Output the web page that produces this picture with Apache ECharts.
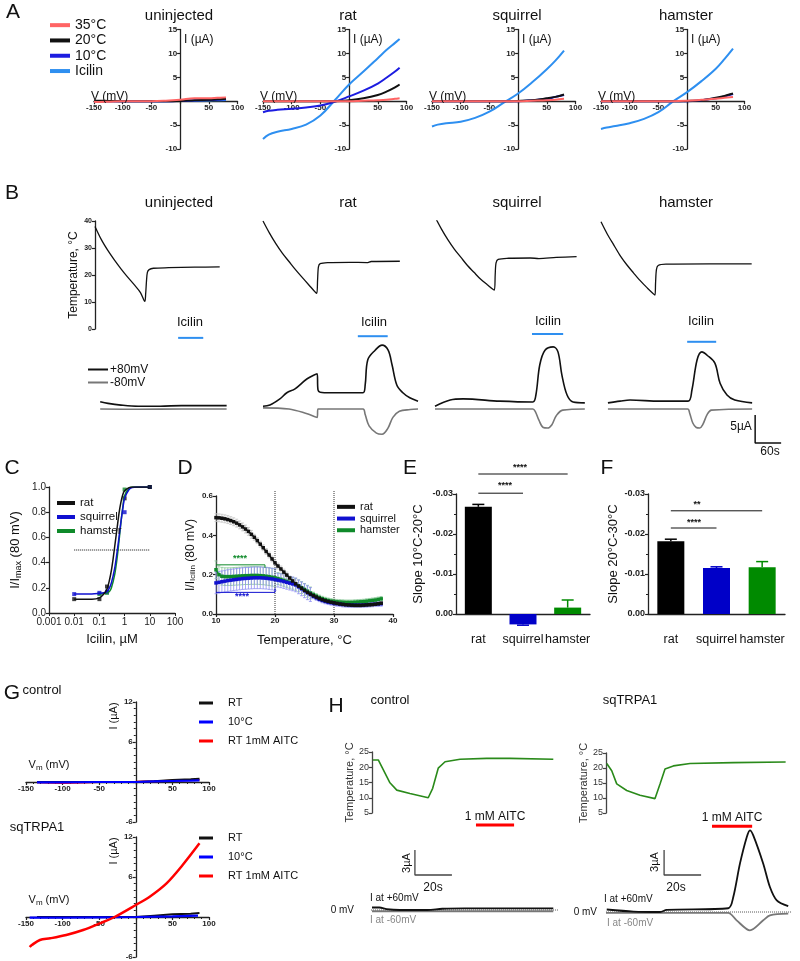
<!DOCTYPE html>
<html><head><meta charset="utf-8">
<script src="https://cdn.jsdelivr.net/npm/echarts@6/dist/echarts.min.js"></script>
<style>html,body{margin:0;padding:0;background:#fff}#c{width:800px;height:961px}</style>
</head><body><div id="c"></div>
<script>
// ================= DATA =================
// Panel A: I-V curves (mV, uA)
const ivV12 = [-150,-140,-125,-100,-75,-50,-25,0,25,50,65,80];
const ivV13 = [-150,-140,-125,-100,-75,-50,-25,0,25,50,65,80,88];
const aU_35 = [-0.1,-0.15,-0.1,0,0,0,0.1,0.3,0.6,0.6,0.7,0.8];
const aU_20 = [0.1,0.1,0.05,0,0,0,0,0.05,0.2,0.3,0.4,0.5];
const aU_10 = [0,0,0,0,0,0,0,0.05,0.15,0.25,0.3,0.4];
const aU_ic = [0,0,0,0,0,0,0,0.05,0.1,0.15,0.2,0.25];
const aR_ic = [-7.9,-7.0,-6.4,-5.8,-4.9,-3.0,0.2,3.5,6.2,9.0,10.7,12.2,13.0];
const aR_10 = [-2.3,-2.0,-1.8,-1.6,-1.3,-0.9,-0.1,1.0,2.2,3.7,4.9,6.2,7.0];
const aR_20 = [0,0,0,0,0,0,0,0.2,0.6,1.3,2.0,2.9,3.5];
const aR_35 = [0,0,0,0,0,0,0,0,0.1,0.2,0.3,0.5,0.6];
const aS_ic = [-5.3,-4.9,-4.6,-4.3,-3.5,-2.2,-0.3,1.6,4.0,6.7,8.5,10.6];
const aS_10 = [0,0,0,0,0,0,0,0,0.2,0.5,0.9,1.3];
const aS_20 = [0,0,0,0,0,0,0,0.05,0.2,0.6,0.9,1.4];
const aS_35 = [0,0,0,0,0,0,0,0,0.1,0.2,0.3,0.5];
const aH_ic = [-5.8,-5.5,-5.2,-4.6,-3.7,-2.3,-0.1,1.9,4.2,6.8,8.8,11.0];
const aH_10 = [0,0,0,0,0,0,0,0,0.2,0.6,1.0,1.5];
const aH_20 = [0,0,0,0,0,0,0,0.05,0.2,0.7,1.1,1.6];
const aH_35 = [0,0,0,0,0,0,0,0.1,0.3,0.5,0.7,0.9];
const aTitles = ['uninjected','rat','squirrel','hamster'];

// Panel B: temperature traces (s, degC)
const bU_t = [0,15,30,45,60,75,90,105,115,117,119,121,125,135,170,230,288];
const bU_T = [38,33,29,25.5,22.3,19.3,16.5,13.5,10.2,13,18,21,22,22.5,22.7,22.9,23];
const bR_t = [0,15,30,45,60,75,90,105,124,126,128,132,150,200,240,250,316];
const bR_T = [40,35.5,31.5,28,25,22,19.2,16.5,13.2,18,23,24.2,24.6,24.7,24.6,25,25.1];
const bS_t = [0,15,30,45,60,75,90,105,120,137,139,141,146,170,220,240,280,327];
const bS_T = [41.5,37,33,29.5,26.5,23.5,21,18.5,16.5,14.4,20,24.5,25.8,26.2,26.3,26.1,26.5,26.8];
const bH_t = [0,15,30,45,60,75,90,105,124.6,126,128,132,150,250,348];
const bH_T = [39.7,35,31,27,23.7,20.8,18,15.5,12.6,17,22,23.5,24,24.1,24.1];
// Panel B: currents (s, uA) at +80 mV and -80 mV
const bU_pt = [12,30,60,100,150,200,250,304];
const bU_p  = [1.3,1.0,0.7,0.5,0.5,0.6,0.6,0.6];
const bU_nt = [12,100,200,304];
const bU_n  = [0,-0.05,0,0];
const bR_pt = [0,16,39,55,74,102,125,127,132,155,231,236,242,259,275,289,298,309,323,339,358];
const bR_p  = [0.5,0.7,1.8,2.9,3.6,5.4,6.3,3.4,3.0,2.9,2.9,4.3,8.8,10.5,11.4,10.5,7.9,4.3,2.9,2.0,1.4];
const bR_nt = [0,60,100,125,127,231,236,245,262,275,288,300,315,340,358];
const bR_n  = [0.2,0,-0.8,-1.5,0,0,-1,-3,-4.3,-4.5,-3.5,-1.5,-0.4,-0.1,0];
const bS_pt = [0,35,65,150,226,233,242,254,273,284,293,305,319,346];
const bS_p  = [0.5,1.6,1.8,1.4,1.25,2.5,7.9,10.5,11.1,10.2,6.1,2.5,1.25,1.1];
const bS_nt = [0,226,232,240,250,260,270,280,295,346];
const bS_n  = [0,0,-0.5,-2,-3.3,-3.4,-2.8,-1.2,-0.2,0];
const bH_pt = [16,44,67,136,201,210,222,233,245,263,275,291,309,349];
const bH_p  = [1.1,1.4,1.6,1.4,1.4,3.4,8.8,10.2,9.6,8.2,4.6,2.5,1.6,1.1];
const bH_nt = [16,200,205,212,220,228,235,245,255,349];
const bH_n  = [0,0,-0.8,-2.5,-3.3,-3.4,-2.8,-1,-0.2,0];
// Icilin application bars [start s, end s, level uA]
const bIcilin = [[192,250,12.7],[219,288,13.0],[224,296,13.4],[199,266,12.0]];
// scale bar 5 uA / 60 s
const bScale = [[356,-1.07],[356,-6.07],[416,-6.07]];

// Panel C: dose response (uM, I/Imax)
const cRatFit = [[0.01,0.11],[0.05,0.11],[0.1,0.12],[0.15,0.15],[0.2,0.19],[0.25,0.26],[0.3,0.34],[0.35,0.43],[0.4,0.52],[0.5,0.67],[0.6,0.79],[0.7,0.87],[0.85,0.94],[1,0.97],[1.5,0.995],[2,1],[10,1]];
const cSqFit  = [[0.01,0.15],[0.05,0.15],[0.1,0.155],[0.15,0.16],[0.2,0.17],[0.25,0.2],[0.3,0.24],[0.4,0.35],[0.5,0.48],[0.6,0.6],[0.7,0.71],[0.85,0.83],[1,0.91],[1.5,0.98],[2,0.995],[3,1],[10,1]];
const cHamFit = [[0.1,0.15],[0.15,0.155],[0.2,0.16],[0.25,0.17],[0.3,0.2],[0.4,0.3],[0.5,0.43],[0.6,0.57],[0.7,0.7],[0.85,0.84],[1,0.93],[1.5,0.99],[2,1],[10,1]];
const cRatPts = [[0.01,0.11],[0.1,0.11],[0.2,0.21],[1,0.91],[10,1.0]];
const cSqPts  = [[0.01,0.15],[0.1,0.16],[0.2,0.17],[1,0.8],[10,1.0]];
const cHamPts = [[0.1,0.15],[0.2,0.16],[1,0.98],[10,1.0]];
const cHalf = [[0.01,0.5],[10,0.5]];

// Panel D: I/I_Icilin vs temperature
const dT = [10,10.5,11,11.5,12,12.5,13,13.5,14,14.5,15,15.5,16,16.5,17,17.5,18,18.5,19,19.5,20,20.5,21,21.5,22,22.5,23,23.5,24,24.5,25,25.5,26,26.5,27,27.5,28,28.5,29,29.5,30,30.5,31,31.5,32,32.5,33,33.5,34,34.5,35,35.5,36,36.5,37,37.5,38];
const dRat = [0.49,0.489,0.487,0.484,0.48,0.475,0.469,0.462,0.453,0.443,0.432,0.42,0.405,0.39,0.373,0.355,0.337,0.318,0.3,0.28,0.26,0.244,0.229,0.213,0.198,0.183,0.168,0.154,0.142,0.131,0.12,0.11,0.101,0.093,0.086,0.079,0.073,0.068,0.064,0.06,0.057,0.054,0.051,0.049,0.047,0.046,0.045,0.044,0.044,0.044,0.045,0.046,0.047,0.048,0.05,0.052,0.055];
const dSq = [0.158,0.161,0.164,0.167,0.17,0.172,0.174,0.176,0.178,0.18,0.181,0.182,0.183,0.184,0.184,0.184,0.183,0.182,0.18,0.178,0.175,0.172,0.169,0.165,0.161,0.157,0.153,0.148,0.138,0.128,0.118,0.108,0.099,0.09,0.082,0.075,0.069,0.064,0.06,0.057,0.054,0.052,0.05,0.048,0.047,0.046,0.045,0.045,0.045,0.045,0.046,0.047,0.048,0.049,0.05,0.051,0.052];
const dHam = [0.225,0.2,0.192,0.19,0.19,0.19,0.191,0.192,0.193,0.194,0.195,0.195,0.196,0.196,0.196,0.195,0.194,0.192,0.19,0.187,0.184,0.18,0.176,0.171,0.166,0.161,0.156,0.151,0.143,0.134,0.125,0.116,0.107,0.099,0.091,0.084,0.078,0.073,0.069,0.066,0.064,0.062,0.061,0.06,0.059,0.059,0.059,0.06,0.061,0.062,0.063,0.065,0.067,0.069,0.071,0.074,0.077];
const dRatErr = [0.02,0.02,0.02,0.02,0.02,0.02,0.02,0.02,0.02,0.02,0.02,0.02,0.02,0.015,0.015,0.015,0.015,0.015,0.015,0.015,0.015,0.015,0.015,0.015,0.015,0.008,0.008,0.008,0.008,0.008,0.008,0.008,0.008,0.008,0.008,0.008,0.008,0.008,0.008,0.008,0.008,0.008,0.008,0.008,0.008,0.008,0.008,0.008,0.008,0.008,0.008,0.008,0.008,0.008,0.008,0.008,0.008];
const dSqErr = [0.055,0.055,0.055,0.055,0.055,0.055,0.055,0.055,0.055,0.055,0.055,0.055,0.055,0.055,0.055,0.055,0.055,0.055,0.055,0.055,0.055,0.035,0.035,0.035,0.035,0.035,0.035,0.035,0.035,0.035,0.035,0.035,0.035,0.012,0.012,0.012,0.012,0.012,0.012,0.012,0.012,0.012,0.012,0.012,0.012,0.012,0.012,0.012,0.012,0.012,0.012,0.012,0.012,0.012,0.012,0.012,0.012];
const dHamErr = [0.045,0.045,0.045,0.045,0.045,0.045,0.045,0.045,0.045,0.045,0.045,0.045,0.045,0.045,0.045,0.045,0.045,0.045,0.045,0.045,0.045,0.03,0.03,0.03,0.03,0.03,0.03,0.03,0.03,0.03,0.03,0.03,0.03,0.012,0.012,0.012,0.012,0.012,0.012,0.012,0.012,0.012,0.012,0.012,0.012,0.012,0.012,0.012,0.012,0.012,0.012,0.012,0.012,0.012,0.012,0.012,0.012];
const dBrGreen = [[10,0.25],[18.3,0.25],[18.3,0.235]];
const dBrBlue = [[10,0.11],[20,0.11],[20,0.13]];

// Panels E, F: slopes
const efCats = ['rat','squirrel','hamster'];
const eMean = [-0.0268, 0.0026, -0.0016];
const eErr  = [0.0006, 0.0002, 0.0019];
const fMean = [-0.0182, -0.0115, -0.0117];
const fErr  = [0.0005, 0.0003, 0.0014];
const eBr1 = [['rat',-0.035],['hamster',-0.035]];
const eBr2 = [['rat',-0.0302],['squirrel',-0.0302]];
const fBr1 = [['rat',-0.0258],['hamster',-0.0258]];
const fBr2 = [['rat',-0.0215],['squirrel',-0.0215]];

// Panel G: I-V, control and sqTRPA1
const gC_V = [-135,-100,-50,0,25,50,75,87];
const gC_RT = [0,0,0,0,0.1,0.3,0.4,0.5];
const gC_10 = [-0.05,-0.05,0,0,0.1,0.15,0.2,0.25];
const gC_AI = [-0.05,-0.15,0,0.05,0.1,0.2,0.3,0.35];
const gS_RTV = [-135,-50,0,25,50,75,87];
const gS_RT = [0,0,0,0.2,0.4,0.5,0.6];
const gS_10V = [-145,-100,-50,0,50,85];
const gS_10 = [-0.1,-0.1,-0.05,0,0.1,0.2];
const gS_AIV = [-145,-142,-131,-117,-95,-72,-49,-29,0,19,42,64,87];
const gS_AI = [-4.5,-4.2,-3.45,-3.2,-2.7,-1.95,-0.95,0,1.8,3.05,5.05,7.8,11.05];

// Panel H: temperature and currents
const hC_tt = [0.4,3.4,9.7,13.4,20.5,30.4,32.8,35.8,39.5,47.6,62,74.6,98];
const hC_T  = [22.4,22.4,14.9,12.5,11.4,10.0,13.1,19.7,21.8,22.6,22.9,22.9,22.6];
const hS_tt = [0.4,3.1,5.8,11.2,18.4,26.5,29.2,31.9,36.4,45.4,68.8,97.1];
const hS_T  = [21.5,19.1,14.7,12.5,10.9,9.8,14.7,19.7,20.7,21.5,21.8,22.0];
const hC_pt = [0,4,8,15,30,38,50,98];
const hC_p  = [0.3,0.3,0.1,0,0,0.15,0.2,0.2];
const hC_nt = [0,50,98];
const hC_n  = [-0.15,-0.15,-0.15];
const hS_pt = [0.4,14.8,29.2,32.8,66.1,68.8,72.4,76.1,77.8,79.6,85,88.6,92.3,98.5];
const hS_p  = [0.3,0.05,0,0.25,0.45,1.8,5.8,9.0,9.8,9.2,5.8,3.0,1.4,0.7];
const hS_nt = [0,66,70.6,77.8,85,88.6,98.5];
const hS_n  = [-0.1,-0.1,-1.0,-2.2,-1.0,-0.4,-0.2];
const hC_aitc = [[56.2,10.2],[76.8,10.2]];
const hS_aitc = [[57.3,10.3],[79,10.3]];
const hC_scale = [[23.2,7.2],[23.2,4.2],[43.2,4.2]];
const hS_scale = [[31.4,7.44],[31.4,4.44],[51.4,4.44]];
const hC_zero = [[-9.2,0],[100.5,0]];
const hS_zero = [[-4.3,0],[105,0]];

// ================= BUILD =================
const FONT = 'Arial, "Liberation Sans", Helvetica, sans-serif';
const grids=[], xAxis=[], yAxis=[], series=[], graphic=[];
function grid(g, xa, ya){ const i=grids.length; grids.push(g); xAxis.push(Object.assign({gridIndex:i}, xa)); yAxis.push(Object.assign({gridIndex:i}, ya)); return i; }
const hid = (min,max)=>({type:'value', show:false, min, max});
const zip = (a,b)=>a.map((v,i)=>[v,b[i]]);
function ln(i,name,data,color,w,extra){ series.push(Object.assign({type:'line',name,xAxisIndex:i,yAxisIndex:i,data,symbol:'none',showSymbol:false,lineStyle:{color,width:w},itemStyle:{color},silent:true,animation:false}, extra||{})); }
function T(x,y,text,o){ o=o||{}; graphic.push({type:'text', x, y, rotation:o.rot||0, silent:true, z:100,
  style:{text, fontSize:o.size||13, fontFamily:FONT, fontWeight:o.weight||'normal', fill:o.color||'#111',
  textAlign:o.align||'center', align:o.align||'center', textVerticalAlign:'middle', verticalAlign:'middle', rich:o.rich}}); }
const AX = '#222';
function valAx(min,max,interval,o){ o=o||{}; return {type:'value', min, max, interval, offset:o.offset||0,
  axisLine:{show:true,onZero:false,lineStyle:{color:o.color||AX,width:o.lw||1.3}},
  axisTick:{show:true,length:3,lineStyle:{color:o.color||AX,width:1.2}},
  minorTick:o.minor?{show:true,splitNumber:o.minor,length:2,lineStyle:{color:o.color||AX}}:{show:false},
  axisLabel:{fontSize:o.fs||8,fontWeight:o.fw||'bold',color:o.lc||AX,margin:o.margin||3,formatter:o.fmt},
  splitLine:{show:false}, inverse:!!o.inverse,
  name:o.name, nameLocation:'middle', nameGap:o.nameGap, nameTextStyle:o.nts}; }
const hideZero = v=>v===0?'':String(v);

// ---- Panel A ----
const aLeft=[94,263,432,601];
const aW=143.5, aH=119.5;
const aData=[[ivV12,aU_ic,aU_10,aU_20,aU_35],[ivV13,aR_ic,aR_10,aR_20,aR_35],[ivV12,aS_ic,aS_10,aS_20,aS_35],[ivV12,aH_ic,aH_10,aH_20,aH_35]];
const aCol={ic:'#2e8ff0',c10:'#1c1ce0',c20:'#111',c35:'#ff6464'};
aLeft.forEach((L,p)=>{
  const i=grid({left:L,top:29.5,width:aW,height:aH},
    valAx(-150,100,50,{fmt:hideZero,offset:-aH*10/25}), valAx(-10,15,5,{fmt:hideZero,offset:-aW*150/250}));
  const d=aData[p];
  ln(i,'Icilin',zip(d[0],d[1]),aCol.ic,2,{smooth:0.4});
  ln(i,'10°C',zip(d[0],d[2]),aCol.c10,2,{smooth:0.4});
  ln(i,'20°C',zip(d[0],d[3]),aCol.c20,2,{smooth:0.4});
  ln(i,'35°C',zip(d[0],d[4]),aCol.c35,2,{smooth:0.4});
  T(L+86+4,40,'I (µA)',{size:12,align:'left'});
  T(L-3,97,'V (mV)',{size:12,align:'left'});
  T(L+85,16,aTitles[p],{size:15});
  T(L+85,203,aTitles[p],{size:15});
});

// ---- Panel B ----
const bCols=[{L:95,W:135},{L:263,W:160},{L:435,W:152},{L:601,W:152}];
const bTemp=[[bU_t,bU_T],[bR_t,bR_T],[bS_t,bS_T],[bH_t,bH_T]];
const bCur=[[bU_pt,bU_p,bU_nt,bU_n],[bR_pt,bR_p,bR_nt,bR_n],[bS_pt,bS_p,bS_nt,bS_n],[bH_pt,bH_p,bH_nt,bH_n]];
const bCurIdx=[];
bCols.forEach((c,p)=>{
  const xmax=c.W/0.433;
  const ya = p===0 ? valAx(0,40,10,{fs:7,name:'Temperature, °C',nameGap:15,nts:{fontSize:12,fontWeight:'normal',color:'#111'}}) : hid(0,40);
  const i=grid({left:c.L,top:221,width:c.W,height:108}, hid(0,xmax), ya);
  ln(i,'temp',zip(bTemp[p][0],bTemp[p][1]),'#111',1.3,{smooth:0.3});
});
bCols.forEach((c,p)=>{
  const W = p===3 ? 190 : c.W;
  const xmax=W/0.433;
  const i=grid({left:c.L,top:325,width:W,height:112}, hid(0,xmax), hid(-5,15));
  ln(i,'-80mV',zip(bCur[p][2],bCur[p][3]),'#777',1.6,{smooth:0.35});
  ln(i,'+80mV',zip(bCur[p][0],bCur[p][1]),'#111',1.6,{smooth:0.35});
  const ic=bIcilin[p];
  ln(i,'icbar',[[ic[0],ic[2]],[ic[1],ic[2]]],'#2e8ff0',2,{clip:false});
  bCurIdx.push(i);
});
ln(bCurIdx[3],'scale',bScale,'#111',1.5,{clip:false});
const bLab=[[190,322],[374,322],[548,321],[701,321]];
bLab.forEach(q=>T(q[0],q[1],'Icilin',{size:13}));
T(741,427,'5µA',{size:12}); T(770,452,'60s',{size:12});

// ---- Panel C ----
const logFmt = v=>{const m={'-3':'0.001','-2':'0.01','-1':'0.1','0':'1','1':'10','2':'100'}; return m[String(Math.round(Math.log10(v)))]||'';};
const iC=grid({left:49,top:487,width:126,height:126},
  {type:'log',logBase:10,min:0.001,max:100,
   axisLine:{show:true,lineStyle:{color:AX,width:1.3}},axisTick:{length:3,lineStyle:{color:AX}},
   axisLabel:{fontSize:10,color:AX,margin:4,formatter:logFmt},splitLine:{show:false},
   name:'Icilin, µM',nameLocation:'middle',nameGap:20,nameTextStyle:{fontSize:13,color:'#111'}},
  valAx(0,1,0.2,{fs:10,fw:'normal',fmt:v=>v.toFixed(1),name:'{a|I/I}{s|max}{a| (80 mV)}',nameGap:26,
    nts:{rich:{a:{fontSize:13,color:'#111',fontFamily:FONT},s:{fontSize:9,color:'#111',fontFamily:FONT,padding:[6,0,0,0]}}}}));
ln(iC,'half',cHalf,'#111',1,{lineStyle:{color:'#111',width:1,type:'dotted'}});
ln(iC,'hamster',cHamFit,'#0f8a2a',1.5,{smooth:0.3});
ln(iC,'squirrel',cSqFit,'#1010d0',1.5,{smooth:0.3});
ln(iC,'rat',cRatFit,'#111',1.5,{smooth:0.3});
[[cHamPts,'#0f8a2a','hamster'],[cSqPts,'#1010d0','squirrel'],[cRatPts,'#111','rat']].forEach(s=>{
  series.push({type:'scatter',name:s[2],xAxisIndex:iC,yAxisIndex:iC,data:s[0],symbol:'rect',symbolSize:4,itemStyle:{color:s[1]},silent:true,animation:false});
});

// ---- Panel D ----
const iD=grid({left:216,top:496,width:177,height:118},
  valAx(10,40,10,{fs:8,name:'Temperature, °C',nameGap:20,nts:{fontSize:13,fontWeight:'normal',color:'#111'}}),
  valAx(0,0.6,0.2,{fs:8,fmt:v=>v.toFixed(1),name:'{a|I/I}{s|Icilin}{a| (80 mV)}',nameGap:19,
    nts:{rich:{a:{fontSize:12,color:'#111',fontFamily:FONT},s:{fontSize:8,color:'#111',fontFamily:FONT,padding:[5,0,0,0]}}}}));
ln(iD,'v20',[[20,0],[20,0.63]],'#333',1,{clip:false,lineStyle:{color:'#333',width:1,type:'dotted'}});
ln(iD,'v30',[[30,0],[30,0.63]],'#333',1,{clip:false,lineStyle:{color:'#333',width:1,type:'dotted'}});
function errD(i,xs,ys,es,color){
  series.push({type:'custom',xAxisIndex:i,yAxisIndex:i,silent:true,animation:false,clip:false,
    data:xs.map((x,k)=>[x,ys[k]-es[k],ys[k]+es[k]]),encode:{x:0,y:[1,2]},
    renderItem:(params,api)=>{const p1=api.coord([api.value(0),api.value(1)]),p2=api.coord([api.value(0),api.value(2)]);
      const st={stroke:color,lineWidth:0.8};
      return {type:'group',children:[
        {type:'line',shape:{x1:p1[0],y1:p1[1],x2:p2[0],y2:p2[1]},style:st},
        {type:'line',shape:{x1:p1[0]-1.5,y1:p1[1],x2:p1[0]+1.5,y2:p1[1]},style:st},
        {type:'line',shape:{x1:p2[0]-1.5,y1:p2[1],x2:p2[0]+1.5,y2:p2[1]},style:st}]};}});
}
errD(iD,dT,dHam,dHamErr,'#86c596');
errD(iD,dT,dSq,dSqErr,'#8f8ff2');
errD(iD,dT,dRat,dRatErr,'#c4c4c4');
const dSym={symbol:'rect',symbolSize:3.5,showSymbol:true};
ln(iD,'hamster',zip(dT,dHam),'#0f8a2a',1.5,dSym);
ln(iD,'squirrel',zip(dT,dSq),'#1010d0',1.5,dSym);
ln(iD,'rat',zip(dT,dRat),'#111',1.5,dSym);
ln(iD,'brG',dBrGreen,'#0f8a2a',1,{clip:false});
ln(iD,'brB',dBrBlue,'#1010d0',1,{clip:false});
T(240,559,'****',{size:9,weight:'bold',color:'#0f8a2a'});
T(242,597,'****',{size:9,weight:'bold',color:'#1010d0'});

// ---- Panels E, F ----
const barCol=['#000','#0000c8','#008a00'];
function slopePanel(L,W,means,errs,name,gap,br){
  const i=grid({left:L,top:494,width:W,height:120},
    {type:'category',data:efCats,axisLine:{show:true,lineStyle:{color:AX,width:1.3}},axisTick:{show:false},
     axisLabel:{fontSize:12.5,color:'#111',margin:19,interval:0}},
    valAx(-0.03,0,0.01,{fs:9,inverse:true,minor:2,fmt:v=>v.toFixed(2),name,nameGap:gap,
      nts:{fontSize:13,fontWeight:'normal',color:'#111'}}));
  series.push({type:'bar',xAxisIndex:i,yAxisIndex:i,barWidth:27,clip:false,silent:true,animation:false,
    data:means.map((v,k)=>({value:v,itemStyle:{color:barCol[k]}}))});
  series.push({type:'custom',xAxisIndex:i,yAxisIndex:i,silent:true,animation:false,clip:false,
    data:means.map((v,k)=>[k,v,v+(v<=0?-errs[k]:errs[k])]),encode:{x:0,y:[1,2]},
    renderItem:(params,api)=>{const k=api.value(0);const p1=api.coord([k,api.value(1)]),p2=api.coord([k,api.value(2)]);
      const st={stroke:barCol[k],lineWidth:1.5};
      return {type:'group',children:[
        {type:'line',shape:{x1:p1[0],y1:p1[1],x2:p2[0],y2:p2[1]},style:st},
        {type:'line',shape:{x1:p2[0]-6,y1:p2[1],x2:p2[0]+6,y2:p2[1]},style:st}]};}});
  br.forEach(b=>ln(i,'br',b,'#111',1,{clip:false}));
  return i;
}
slopePanel(456,134,eMean,eErr,'Slope 10°C-20°C',31,[eBr1,eBr2]);
slopePanel(648,137,fMean,fErr,'Slope 20°C-30°C',28,[fBr1,fBr2]);
T(520,468,'****',{size:9,weight:'bold'}); T(505,486,'****',{size:9,weight:'bold'});
T(697,505,'**',{size:9,weight:'bold'}); T(694,523,'****',{size:9,weight:'bold'});

// ---- Panel G ----
const gTops=[702,837];
const gIdx=gTops.map(tp=>grid({left:26,top:tp,width:183,height:120},
  valAx(-150,100,50,{fmt:hideZero,minor:5,offset:-40}), valAx(-6,12,6,{fmt:hideZero,minor:6,offset:-183*150/250})));
ln(gIdx[0],'RT 1mM AITC',zip(gC_V,gC_AI),'#ff0000',2);
ln(gIdx[0],'RT',zip(gC_V,gC_RT),'#111',2);
ln(gIdx[0],'10°C',zip(gC_V,gC_10),'#0000ff',2.2);
ln(gIdx[1],'RT',zip(gS_RTV,gS_RT),'#111',2);
ln(gIdx[1],'10°C',zip(gS_10V,gS_10),'#0000ff',2.2);
ln(gIdx[1],'RT 1mM AITC',zip(gS_AIV,gS_AI),'#ff0000',2.5,{smooth:0.3});
T(42,690,'control',{size:13}); T(37,827,'sqTRPA1',{size:13});
[716,851].forEach(y=>T(114,y,'I (µA)',{size:11,rot:Math.PI/2}));
[765,900].forEach(y=>T(49,y,'V{s|m} (mV)',{size:11,rich:{s:{fontSize:8,padding:[5,0,0,0],fontFamily:FONT}}}));

// ---- Panel H ----
const hTemp=[[372,752,61,hC_tt,hC_T],[606,753,60,hS_tt,hS_T]];
hTemp.forEach(h=>{
  const i=grid({left:h[0],top:h[1],width:185,height:h[2]}, hid(0,100),
    valAx(5,25,5,{fs:9,fw:'normal',lc:'#333',color:'#444',name:'Temperature, °C',nameGap:17,nts:{fontSize:11,color:'#333'}}));
  ln(i,'htemp',zip(h[3],h[4]),'#2a8a1a',1.6);
});
const hCur=[[372,810,hC_pt,hC_p,hC_nt,hC_n,hC_aitc,hC_scale,hC_zero],[606,812,hS_pt,hS_p,hS_nt,hS_n,hS_aitc,hS_scale,hS_zero]];
hCur.forEach(h=>{
  const i=grid({left:h[0],top:h[1],width:185,height:125}, hid(0,100), hid(-3,12));
  ln(i,'zero',h[8],'#555',1,{clip:false,lineStyle:{color:'#555',width:1,type:'dotted'}});
  ln(i,'I-60',zip(h[4],h[5]),'#777',1.8,{smooth:0.3});
  ln(i,'I+60',zip(h[2],h[3]),'#111',1.8,{smooth:0.3});
  ln(i,'aitc',h[6],'#ff0000',3,{clip:false});
  ln(i,'scale',h[7],'#444',1.3,{clip:false});
});
T(390,700,'control',{size:13}); T(630,700,'sqTRPA1',{size:13});
T(495,817,'1 mM AITC',{size:12}); T(732,818,'1 mM AITC',{size:12});
T(407,863,'3µA',{size:11,rot:Math.PI/2}); T(655,862,'3µA',{size:11,rot:Math.PI/2});
T(433,888,'20s',{size:12}); T(676,888,'20s',{size:12});
T(370,898,'I at +60mV',{size:10,align:'left'}); T(604,899,'I at +60mV',{size:10,align:'left'});
T(354,910,'0 mV',{size:10,align:'right'}); T(597,912,'0 mV',{size:10,align:'right'});
T(370,920,'I at -60mV',{size:10,align:'left',color:'#888'}); T(607,923,'I at -60mV',{size:10,align:'left',color:'#888'});

// ---- Panel letters ----
[['A',13,12],['B',12,193],['C',12,468],['D',185,468],['E',410,468],['F',607,468],['G',12,693],['H',336,706]]
  .forEach(l=>T(l[1],l[2],l[0],{size:21}));

// ---- Legends ----
const legBase={orient:'vertical',icon:'rect',selectedMode:false,itemGap:0,padding:0};
const legends=[
  Object.assign({},legBase,{left:50,top:17.5,itemWidth:20,itemHeight:4,data:['35°C','20°C','10°C','Icilin'],textStyle:{fontSize:14,lineHeight:15.3,color:'#111',fontFamily:FONT}}),
  Object.assign({},legBase,{left:88,top:363,itemWidth:20,itemHeight:2,data:['+80mV','-80mV'],textStyle:{fontSize:12,lineHeight:13,color:'#111',fontFamily:FONT,padding:[0,0,0,-3]}}),
  Object.assign({},legBase,{left:57,top:496,itemWidth:18,itemHeight:4,data:['rat','squirrel','hamster'],textStyle:{fontSize:11.5,lineHeight:14,color:'#111',fontFamily:FONT}}),
  Object.assign({},legBase,{left:337,top:501,itemWidth:18,itemHeight:4,data:['rat','squirrel','hamster'],textStyle:{fontSize:11,lineHeight:11.7,color:'#111',fontFamily:FONT}}),
];
[697,832].forEach(tp=>legends.push(Object.assign({},legBase,{left:199,top:tp,itemWidth:14,itemHeight:3,itemGap:7,
  data:['RT',{name:'10°C',itemStyle:{color:'#0000ff'}},'RT 1mM AITC'],textStyle:{fontSize:11,lineHeight:12,color:'#111',fontFamily:FONT,padding:[0,0,0,10]}})));

const chart=echarts.init(document.getElementById('c'),null,{renderer:'canvas'});
chart.setOption({animation:false,backgroundColor:'#fff',textStyle:{fontFamily:FONT},
  grid:grids,xAxis,yAxis,series,graphic,legend:legends,tooltip:{show:false}});
</script></body></html>
